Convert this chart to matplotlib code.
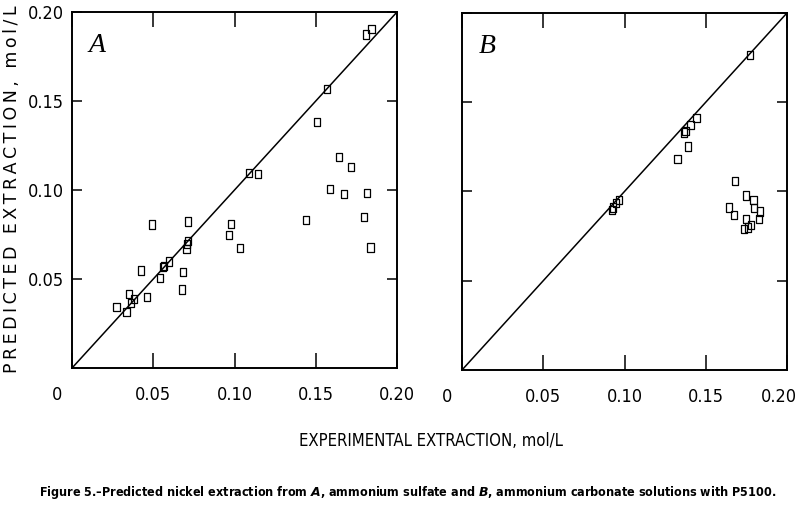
import matplotlib.pyplot as plt
from matplotlib.transforms import ScaledTranslation

# ---- data ----
# panel A: ammonium sulfate
a_exp = [0.181, 0.1844, 0.157, 0.1508, 0.1645, 0.1717, 0.1089, 0.1145, 0.1588, 0.1674,
         0.1817, 0.0492, 0.0712, 0.0978, 0.144, 0.1797, 0.0966, 0.1034, 0.1836, 0.0712,
         0.0708, 0.0705, 0.0425, 0.0595, 0.0568, 0.056, 0.0683, 0.054, 0.0675, 0.0463,
         0.0351, 0.038, 0.0363, 0.0273, 0.0336]
a_pred = [0.1874, 0.1903, 0.1566, 0.1382, 0.1187, 0.1131, 0.1097, 0.1090, 0.1004, 0.0978,
          0.0985, 0.0807, 0.0824, 0.0809, 0.0830, 0.0847, 0.0747, 0.0676, 0.0678, 0.0715,
          0.0695, 0.0669, 0.0547, 0.0599, 0.0575, 0.0569, 0.0539, 0.0507, 0.0442, 0.0399,
          0.0417, 0.0388, 0.0365, 0.0344, 0.0315]
# panel B: ammonium carbonate
b_exp = [0.1772, 0.1444, 0.1407, 0.1376, 0.1366, 0.139, 0.1327, 0.1682, 0.1748, 0.1793,
         0.1797, 0.1834, 0.1828, 0.1645, 0.1672, 0.1746, 0.1777, 0.1762, 0.1735,
         0.0966, 0.0946, 0.0931, 0.0923]
b_pred = [0.1765, 0.141, 0.1373, 0.134, 0.133, 0.1251, 0.118, 0.1059, 0.0978, 0.0952,
          0.0906, 0.0887, 0.0846, 0.0911, 0.0868, 0.0844, 0.0812, 0.0799, 0.0788,
          0.0952, 0.0937, 0.0911, 0.0896]

ticks = [0, 0.05, 0.10, 0.15, 0.20]
tick_labels = ["0", "0.05", "0.10", "0.15", "0.20"]
y_ticks = [0.05, 0.10, 0.15, 0.20]
y_tick_labels = ["0.05", "0.10", "0.15", "0.20"]

plt.rcParams["mathtext.fontset"] = "custom"
plt.rcParams["mathtext.it"] = "DejaVu Sans:italic:bold"

cond = dict(family="DejaVu Sans", stretch="condensed")
box = [(-0.38, -0.5), (0.38, -0.5), (0.38, 0.5), (-0.38, 0.5), (-0.38, -0.5)]

fig = plt.figure(figsize=(8, 5.14), dpi=100)
axA = fig.add_axes([0.09, 0.284, 0.40625, 0.6926])
axB = fig.add_axes([0.5775, 0.2802, 0.40625, 0.6946])

for ax, xs, ys, tag in [(axA, a_exp, a_pred, "A"), (axB, b_exp, b_pred, "B")]:
    ax.plot([0, 0.2], [0, 0.2], color="black", lw=1.1)
    ax.scatter(xs, ys, marker=box, s=36, facecolors="none", edgecolors="black", linewidths=0.9)
    ax.set_xlim(0, 0.2)
    ax.set_ylim(0, 0.2)
    for s in ax.spines.values():
        s.set_linewidth(1.4)
    ax.set_xticks(ticks)
    ax.set_xticklabels(tick_labels, fontsize=13, **cond)
    ax.set_yticks(y_ticks)
    ax.tick_params(axis="x", direction="in", length=11, width=1.1, top=True, pad=13)
    ax.tick_params(axis="y", direction="in", length=7, width=1.1, right=True, pad=6)
    # the origin "0" sits left of the corner
    lab0 = ax.get_xticklabels()[0]
    lab0.set_transform(lab0.get_transform() + ScaledTranslation(-0.15, 0, fig.dpi_scale_trans))
    ax.text(0.052, 0.905, tag, transform=ax.transAxes, fontsize=20, style="italic",
            family="Liberation Serif", va="center", ha="left")

axA.set_yticklabels(y_tick_labels, fontsize=13, **cond)
axB.set_yticklabels([])
# last label on B pulled in from the page edge
labB = axB.get_xticklabels()[-1]
labB.set_transform(labB.get_transform() + ScaledTranslation(-0.08, 0, fig.dpi_scale_trans))

ylab = "\u2009".join("PREDICTED EXTRACTION, mol/L")
fig.text(0.015, 0.632, ylab, rotation=90, fontsize=12.5,
         family="DejaVu Sans", va="center", ha="center")
fig.text(0.539, 0.142, "EXPERIMENTAL EXTRACTION, mol/L", fontsize=12,
         ha="center", va="center", **cond)
fig.text(0.509, 0.041, "Figure 5.\u2013Predicted nickel extraction from $\\it{A}$, ammonium sulfate and "
         "$\\it{B}$, ammonium carbonate solutions with P5100.", fontsize=9,
         weight="bold", ha="center", va="center", **cond)

fig.savefig("out.png", dpi=100)
